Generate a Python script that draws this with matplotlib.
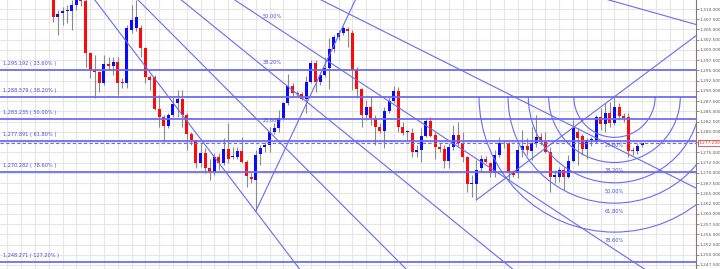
import numpy as np
import matplotlib.pyplot as plt
from matplotlib.patches import Arc
from matplotlib.ticker import FuncFormatter, FixedLocator
import matplotlib.transforms as mtransforms

# daily candles (index 0 = first visible candle)
opens = [1313.5, 1308.0, 1309.1, 1309.5, 1309.6, 1311.0, 1312.5, 1312.0, 1299.2, 1295.1,
         1294.7, 1292.0, 1296.6, 1296.2, 1297.1, 1292.3, 1291.9, 1304.9, 1305.3, 1305.3,
         1300.4, 1293.3, 1293.3, 1285.5, 1283.6, 1281.4, 1284.1, 1287.0, 1288.0, 1284.1,
         1279.6, 1277.9, 1272.3, 1274.9, 1271.1, 1270.1, 1273.8, 1272.3, 1275.8, 1273.8,
         1273.9, 1275.3, 1272.7, 1269.1, 1268.2, 1274.6, 1276.2, 1276.8, 1280.0, 1280.9,
         1283.3, 1287.0, 1291.2, 1289.6, 1289.2, 1288.0, 1292.3, 1296.9, 1292.3, 1293.9,
         1295.7, 1300.2, 1303.2, 1304.2, 1305.2, 1304.1, 1295.1, 1290.4, 1284.1, 1286.1,
         1283.3, 1281.3, 1280.3, 1285.2, 1287.6, 1290.1, 1281.3, 1279.9, 1279.8, 1275.2,
         1275.6, 1279.0, 1282.7, 1279.2, 1276.2, 1275.7, 1273.0, 1276.2, 1279.2, 1277.2,
         1273.8, 1267.3, 1267.3, 1271.1, 1273.5, 1272.3, 1270.0, 1274.4, 1277.2, 1277.2,
         1269.9, 1269.9, 1275.6, 1276.6, 1275.4, 1277.2, 1278.7, 1277.6, 1275.2, 1268.9,
         1269.1, 1270.7, 1269.1, 1273.0, 1280.0, 1279.0, 1275.7, 1278.0, 1277.6, 1283.6,
         1281.9, 1284.5, 1282.2, 1286.1, 1283.9, 1283.7, 1275.6, 1275.4, 1276.7]
highs = [1314.0, 1309.8, 1310.6, 1311.0, 1312.2, 1313.0, 1313.0, 1312.5, 1299.4, 1298.8,
         1294.9, 1298.8, 1298.4, 1298.4, 1298.4, 1293.1, 1306.0, 1311.0, 1312.2, 1306.1,
         1300.8, 1293.9, 1293.9, 1289.0, 1284.1, 1284.5, 1288.6, 1290.2, 1290.2, 1284.5,
         1280.0, 1278.0, 1277.2, 1276.0, 1273.5, 1274.8, 1274.8, 1278.4, 1282.2, 1276.4,
         1276.4, 1278.8, 1273.1, 1269.9, 1275.6, 1276.8, 1277.6, 1281.3, 1282.1, 1285.3,
         1287.4, 1294.1, 1292.0, 1290.0, 1289.8, 1293.6, 1297.5, 1297.5, 1294.7, 1298.2,
         1302.8, 1303.7, 1304.9, 1305.88, 1305.7, 1304.9, 1295.9, 1290.6, 1287.8, 1288.8,
         1284.1, 1282.2, 1286.1, 1288.6, 1291.2, 1291.0, 1282.5, 1280.5, 1280.9, 1276.8,
         1280.9, 1283.3, 1283.6, 1280.0, 1277.2, 1276.8, 1277.2, 1281.7, 1282.5, 1280.0,
         1274.0, 1269.5, 1273.1, 1274.4, 1274.0, 1272.7, 1275.6, 1278.8, 1278.0, 1277.6,
         1270.7, 1276.8, 1280.5, 1278.4, 1281.3, 1284.1, 1279.7, 1280.0, 1276.2, 1270.7,
         1271.5, 1271.5, 1274.4, 1282.9, 1280.9, 1279.5, 1278.4, 1278.8, 1284.1, 1285.8,
         1287.0, 1287.4, 1288.6, 1287.0, 1284.5, 1284.5, 1276.2, 1277.2, 1277.4]
lows = [1306.9, 1303.7, 1306.1, 1306.5, 1304.9, 1309.8, 1310.7, 1295.9, 1293.1, 1288.2,
        1289.8, 1291.4, 1295.1, 1293.9, 1289.0, 1290.6, 1290.6, 1304.1, 1304.6, 1298.4,
        1291.9, 1290.2, 1285.3, 1281.3, 1277.6, 1280.9, 1283.7, 1283.7, 1281.3, 1275.6,
        1276.8, 1271.1, 1271.5, 1269.9, 1268.2, 1269.5, 1270.7, 1271.9, 1272.3, 1273.3,
        1273.5, 1272.3, 1266.6, 1267.4, 1260.59, 1271.9, 1275.2, 1275.2, 1279.6, 1280.0,
        1282.9, 1286.6, 1288.6, 1288.6, 1287.8, 1284.5, 1291.9, 1289.8, 1291.4, 1293.5,
        1290.4, 1299.6, 1302.4, 1303.7, 1300.8, 1290.2, 1288.2, 1281.3, 1282.9, 1281.7,
        1276.8, 1279.7, 1276.0, 1284.5, 1287.1, 1280.0, 1279.2, 1278.0, 1273.9, 1273.9,
        1272.7, 1278.7, 1278.7, 1273.5, 1275.2, 1271.1, 1271.1, 1275.6, 1276.2, 1272.7,
        1265.4, 1264.2, 1263.4, 1270.3, 1272.3, 1269.1, 1269.1, 1273.9, 1276.1, 1268.3,
        1268.9, 1268.7, 1273.9, 1274.4, 1273.1, 1276.2, 1276.8, 1274.8, 1265.4, 1267.5,
        1267.8, 1265.8, 1268.7, 1272.7, 1271.9, 1274.4, 1273.5, 1276.6, 1277.2, 1280.5,
        1280.0, 1281.3, 1281.7, 1282.9, 1282.5, 1273.9, 1274.4, 1274.6, 1276.4]
closes = [1308.1, 1308.9, 1309.6, 1309.7, 1311.0, 1312.1, 1312.0, 1299.2, 1295.1, 1294.7,
          1292.0, 1296.6, 1296.1, 1297.1, 1292.0, 1291.9, 1305.4, 1307.3, 1308.1, 1300.4,
          1293.5, 1292.7, 1285.5, 1283.6, 1281.4, 1284.1, 1286.8, 1288.0, 1284.1, 1279.6,
          1278.0, 1272.3, 1274.9, 1271.3, 1270.1, 1273.8, 1272.3, 1275.8, 1273.5, 1274.2,
          1275.3, 1272.7, 1269.2, 1268.4, 1274.4, 1276.0, 1276.8, 1280.0, 1281.0, 1283.3,
          1287.0, 1291.2, 1289.6, 1289.2, 1288.0, 1292.3, 1296.9, 1292.3, 1293.9, 1295.7,
          1300.2, 1303.2, 1304.2, 1305.4, 1304.6, 1295.1, 1290.4, 1284.1, 1286.1, 1283.3,
          1281.3, 1280.3, 1285.2, 1287.6, 1290.1, 1281.3, 1279.8, 1280.1, 1275.2, 1275.6,
          1279.0, 1282.7, 1279.0, 1276.2, 1275.7, 1273.0, 1276.2, 1279.2, 1277.2, 1273.8,
          1267.3, 1267.5, 1270.7, 1273.5, 1272.7, 1270.0, 1274.4, 1277.2, 1277.4, 1269.9,
          1269.5, 1275.6, 1276.6, 1275.6, 1277.2, 1278.7, 1277.6, 1275.2, 1268.9, 1269.5,
          1270.7, 1269.1, 1273.0, 1280.9, 1278.4, 1275.7, 1278.0, 1278.2, 1283.6, 1281.9,
          1284.5, 1282.1, 1286.1, 1283.9, 1283.3, 1275.4, 1275.4, 1276.6, 1277.2]

# drawing objects (anchors on candles)
retr_ratios = [0.236, 0.382, 0.5, 0.618, 0.786, 1.272]
fan_ratios = [0.0, 0.236, 0.382, 0.5, 0.618, 0.786]
arc_ratios = [0.236, 0.382, 0.5, 0.618, 0.786]
fan_top = (-21.4, 1357.1)   # swing high before the visible range
low_a, high_b = 44, 63
low_c, high_d = 92, 122
last_price = 1277.2
price_ticks = np.arange(1247.5, 1310.1, 2.5)

line_col = '#6b6bef'
text_col = '#4a4ad8'

W, H = 720, 269
fig = plt.figure(figsize=(W / 100, H / 100), dpi=100)
ax = fig.add_axes([0, 0, 696 / W, 1])
xlim = (-11.59, 139.72)
ylim = (1246.52, 1312.2)
ax.set_xlim(*xlim)
ax.set_ylim(*ylim)
sx = 696 / (xlim[1] - xlim[0])   # px per candle
sy = H / (ylim[1] - ylim[0])     # px per price unit

# grid
for p in price_ticks:
    ax.axhline(p, color='#e6e6e6', lw=0.8, zorder=0)
for gx in np.arange(-10, 140, 3):
    ax.axvline(gx, color='#e6e6e6', lw=0.8, zorder=0)

# candles
n = len(opens)
x = np.arange(n)
o, h, l, c = map(np.array, (opens, highs, lows, closes))
up = c >= o
ax.vlines(x, l, h, color='#8a8a8a', lw=0.8, zorder=2)
body_lo = np.minimum(o, c)
body_h = np.maximum(np.abs(c - o), 0.18)
ax.bar(x[up], body_h[up], bottom=body_lo[up], width=0.62, color='#0a0aff', lw=0, zorder=3)
ax.bar(x[~up], body_h[~up], bottom=body_lo[~up], width=0.62, color='#ff0a0a', lw=0, zorder=3)

# fibonacci retracement A -> B
hi = highs[high_b]
lo = lows[low_a]
for r in retr_ratios:
    lvl = hi - r * (hi - lo)
    ax.axhline(lvl, color=line_col, lw=1.4, alpha=0.9, zorder=4)
    ax.text(-11.0, lvl + 1.45, f'{lvl:,.3f} ( {r * 100:.2f}% )', fontsize=3.6,
            color=text_col, va='center', ha='left', zorder=5)

# current price
ax.axhline(last_price, color=line_col, lw=0.8, ls=(0, (3, 2)), zorder=4)

# fibonacci fan from the earlier high through A
fx0, fy0 = fan_top
for r in fan_ratios:
    py = lo + r * (fy0 - lo)
    slope = (py - fy0) / (low_a - fx0)
    xe = 160
    ax.plot([fx0, xe], [fy0, fy0 + slope * (xe - fx0)], color=line_col, lw=0.8, zorder=4)
    if r > 0 and py < ylim[1] - 1.5:
        ax.text(low_a + 1.6, py - 0.6, f'{r * 100:.2f}%', fontsize=3.6, color=text_col,
                va='center', ha='left', zorder=5)

# trend ray A -> B
slope_ab = (hi - lo) / (high_b - low_a)
ax.plot([low_a, 80], [lo, lo + slope_ab * (80 - low_a)], color=line_col, lw=0.8, zorder=4)

# trend ray C -> D
cy, dy = lows[low_c], highs[high_d]
slope_cd = (dy - cy) / (high_d - low_c)
ax.plot([low_c, 160], [cy, cy + slope_cd * (160 - low_c)], color=line_col, lw=0.8, zorder=4)

# fibonacci arcs centred on D
R = np.hypot((high_d - low_c) * sx, (dy - cy) * sy)
for r in arc_ratios:
    ax.add_patch(Arc((high_d, dy), 2 * r * R / sx, 2 * r * R / sy, theta1=180, theta2=360,
                     color=line_col, lw=0.8, zorder=4))
    ax.text(high_d, dy - (r * R + 8.5) / sy, f'{r * 100:.2f}%', fontsize=3.6,
            color=text_col, va='center', ha='center', zorder=5)

# right price axis
for side in ['left', 'top', 'bottom']:
    ax.spines[side].set_visible(False)
ax.spines['right'].set_color('#7a7a7a')
ax.spines['right'].set_linewidth(0.8)
ax.set_xticks([])
ax.yaxis.tick_right()
ax.yaxis.set_major_locator(FixedLocator(price_ticks))
# the tick under the current price box keeps its mark but not its label
ax.yaxis.set_major_formatter(FuncFormatter(
    lambda v, pos: '' if abs(v - last_price) < 1.0 else f'{v:,.3f}'))
ax.tick_params(axis='y', direction='out', length=2, width=0.6, color='#e05050',
               labelsize=3.1, labelcolor='#555555', pad=0.6)

trans = mtransforms.blended_transform_factory(ax.transAxes, ax.transData)
ax.text(1.004, last_price, f'{last_price:,.3f}', transform=trans, fontsize=3.1,
        color='#d03030', va='center', ha='left', zorder=10, clip_on=False,
        bbox=dict(boxstyle='square,pad=0.2', fc='white', ec='#e04040', lw=0.6))

fig.savefig('out.png', dpi=100, facecolor='white')
